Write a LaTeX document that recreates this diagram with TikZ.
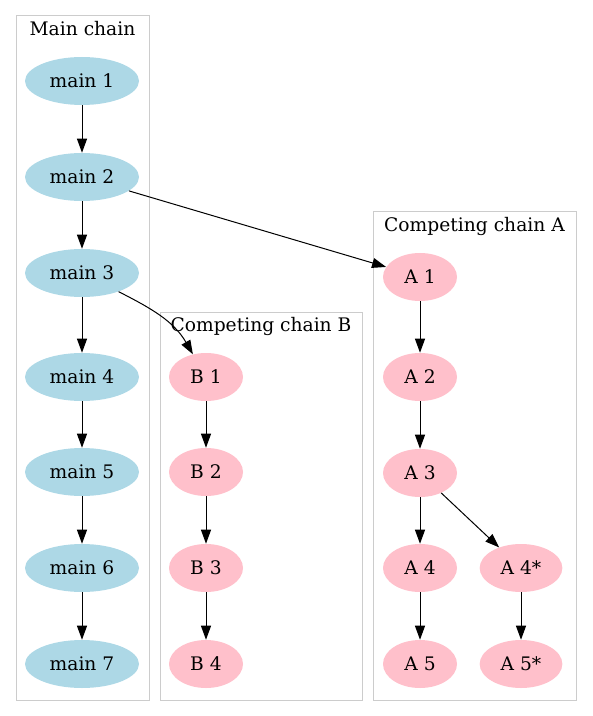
\documentclass[tikz,border=0pt]{standalone}
\usepackage{fontspec}
\setmainfont{DejaVu Serif}
\usetikzlibrary{shapes.geometric,arrows.meta}
\definecolor{mainblue}{HTML}{ADD8E6}
\definecolor{sidepink}{HTML}{FFC0CB}
\definecolor{boxgray}{HTML}{CCCCCC}

\begin{document}
\begin{tikzpicture}[x=0.75pt,y=0.75pt]
        \tikzstyle{every node}+=[inner sep=0pt, font=\fontsize{14}{16}\selectfont]
        \tikzstyle{mainnode}=[ellipse, fill=mainblue, minimum width=85.5pt, minimum height=36pt]
        \tikzstyle{sidenode}=[ellipse, fill=sidepink, minimum width=55.5pt, minimum height=36pt]
        \tikzstyle{cluster}=[boxgray, line width=0.75pt]
        \tikzstyle{edge}=[black, line width=0.75pt, -{Triangle[length=10.5pt,width=7.5pt]}]
        \useasboundingbox (0,0) rectangle (592,-716);
        % clusters
        \draw [cluster] (16,-16) rectangle (149,-700);
        \node (lmain) at (82.5,-29) {Main chain};
        \draw [cluster] (160,-312) rectangle (362,-700);
        \node (lchainb) at (261,-326) {Competing chain B};
        \draw [cluster] (373,-212) rectangle (576,-700);
        \node (lchaina) at (474.5,-226) {Competing chain A};
        % main chain
        \node [mainnode] (m1) at (82,-81) {main 1};
        \node [mainnode] (m2) at (82,-177) {main 2};
        \node [mainnode] (m3) at (82,-273) {main 3};
        \node [mainnode] (m4) at (82,-377) {main 4};
        \node [mainnode] (m5) at (82,-472) {main 5};
        \node [mainnode] (m6) at (82,-568) {main 6};
        \node [mainnode] (m7) at (82,-664) {main 7};
        % chain B
        \node [sidenode] (b1) at (206,-377) {B 1};
        \node [sidenode] (b2) at (206,-472) {B 2};
        \node [sidenode] (b3) at (206,-568) {B 3};
        \node [sidenode] (b4) at (206,-664) {B 4};
        % chain A
        \node [sidenode] (a1) at (420,-277) {A 1};
        \node [sidenode] (a2) at (420,-377) {A 2};
        \node [sidenode] (a3) at (420,-473) {A 3};
        \node [sidenode] (a4) at (420,-568) {A 4};
        \node [sidenode] (a5) at (420,-664) {A 5};
        \node [sidenode, minimum width=62pt] (a4s) at (521,-568) {A 4*};
        \node [sidenode, minimum width=62pt] (a5s) at (521,-664) {A 5*};
        % edges
        \foreach \u/\v in {m1/m2,m2/m3,m3/m4,m4/m5,m5/m6,m6/m7,b1/b2,b2/b3,b3/b4,a1/a2,a2/a3,a3/a4,a4/a5,a3/a4s,a4s/a5s}
            \draw [edge] (\u) -- (\v);
        \draw [edge] (m2) -- (a1);
        \draw [edge] (m3.-27) to[out=-27, in=120] (b1.120);
\end{tikzpicture}
\end{document}
